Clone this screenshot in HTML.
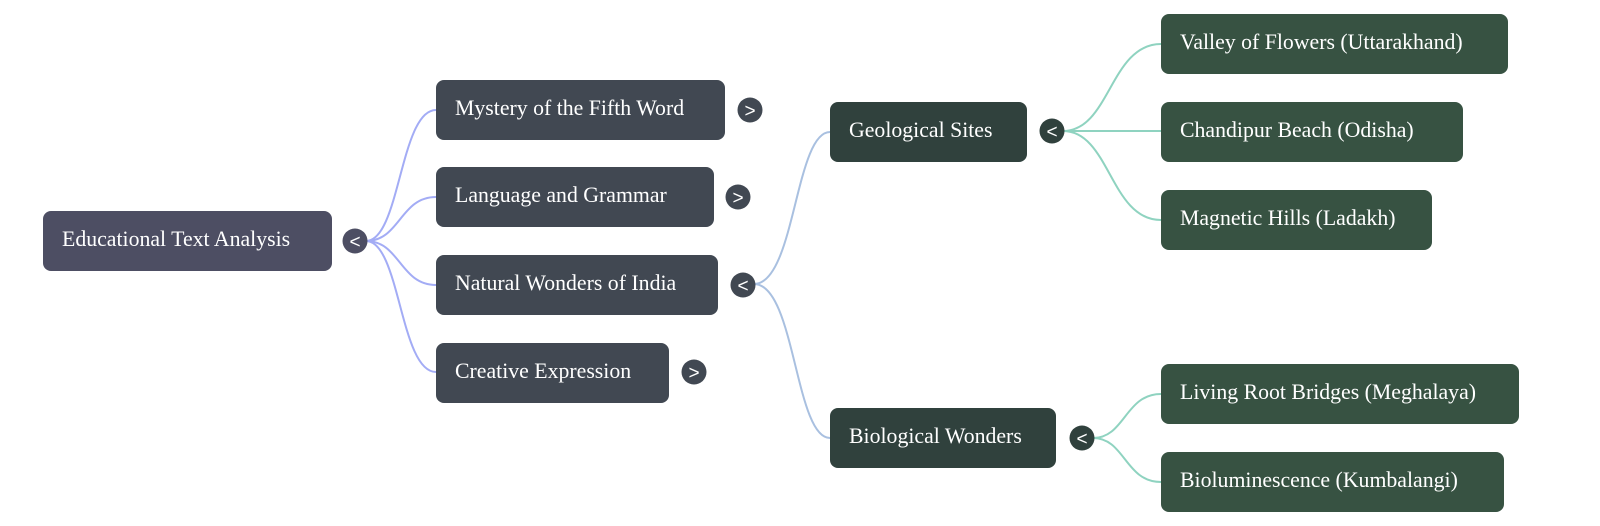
<!DOCTYPE html>
<html><head><meta charset="utf-8"><style>
html,body{margin:0;padding:0;background:#fff;width:1600px;height:526px;overflow:hidden}
svg text{font-family:"Liberation Serif",serif;font-size:21.8px;fill:#fff}
svg text.t{font-family:"Liberation Sans",sans-serif;font-size:19px;fill:#fff;text-anchor:middle}
</style></head><body>
<svg width="1600" height="526" viewBox="0 0 1600 526" xmlns="http://www.w3.org/2000/svg">
<g fill="none" stroke-width="2">
<g stroke="#a3acf5">
<path d="M366 241 C400 241 400 110 436 110"/>
<path d="M366 241 C400 241 400 197 436 197"/>
<path d="M366 241 C400 241 400 285 436 285"/>
<path d="M366 241 C400 241 400 372 436 372"/>
</g>
<g stroke="#a9c0e0">
<path d="M754 284 C795 284 795 132 830 132"/>
<path d="M754 284 C795 284 795 438 830 438"/>
</g>
<g stroke="#8fd3c0">
<path d="M1063 131 C1110 131 1110 44 1161 44"/>
<path d="M1063 131 L1161 131"/>
<path d="M1063 131 C1110 131 1110 220 1161 220"/>
<path d="M1093 438 C1125 438 1125 394 1161 394"/>
<path d="M1093 438 C1125 438 1125 482 1161 482"/>
</g>
</g>
<rect x="43" y="211" width="289" height="60" rx="8" fill="#4d4e63"/>
<text x="62" y="246">Educational Text Analysis</text>
<circle cx="355" cy="241" r="12.5" fill="#4d4e63"/><text class="t" x="355" y="248">&lt;</text>

<rect x="436" y="80" width="289" height="60" rx="8" fill="#414852"/>
<text x="455" y="115">Mystery of the Fifth Word</text>
<circle cx="750" cy="110" r="12.5" fill="#414852"/><text class="t" x="750" y="117">&gt;</text>
<rect x="436" y="167" width="278" height="60" rx="8" fill="#414852"/>
<text x="455" y="202">Language and Grammar</text>
<circle cx="738" cy="197" r="12.5" fill="#414852"/><text class="t" x="738" y="204">&gt;</text>
<rect x="436" y="255" width="282" height="60" rx="8" fill="#414852"/>
<text x="455" y="290">Natural Wonders of India</text>
<circle cx="743" cy="285" r="12.5" fill="#414852"/><text class="t" x="743" y="292">&lt;</text>
<rect x="436" y="343" width="233" height="60" rx="8" fill="#414852"/>
<text x="455" y="378">Creative Expression</text>
<circle cx="694" cy="372" r="12.5" fill="#414852"/><text class="t" x="694" y="379">&gt;</text>

<rect x="830" y="102" width="197" height="60" rx="8" fill="#30413d"/>
<text x="849" y="137">Geological Sites</text>
<circle cx="1052" cy="131" r="12.5" fill="#30413d"/><text class="t" x="1052" y="138">&lt;</text>
<rect x="830" y="408" width="226" height="60" rx="8" fill="#30413d"/>
<text x="849" y="443">Biological Wonders</text>
<circle cx="1082" cy="438" r="12.5" fill="#30413d"/><text class="t" x="1082" y="445">&lt;</text>

<rect x="1161" y="14" width="347" height="60" rx="8" fill="#375242"/>
<text x="1180" y="49">Valley of Flowers (Uttarakhand)</text>
<rect x="1161" y="102" width="302" height="60" rx="8" fill="#375242"/>
<text x="1180" y="137">Chandipur Beach (Odisha)</text>
<rect x="1161" y="190" width="271" height="60" rx="8" fill="#375242"/>
<text x="1180" y="225">Magnetic Hills (Ladakh)</text>
<rect x="1161" y="364" width="358" height="60" rx="8" fill="#375242"/>
<text x="1180" y="399">Living Root Bridges (Meghalaya)</text>
<rect x="1161" y="452" width="343" height="60" rx="8" fill="#375242"/>
<text x="1180" y="487">Bioluminescence (Kumbalangi)</text>
</svg>
</body></html>
